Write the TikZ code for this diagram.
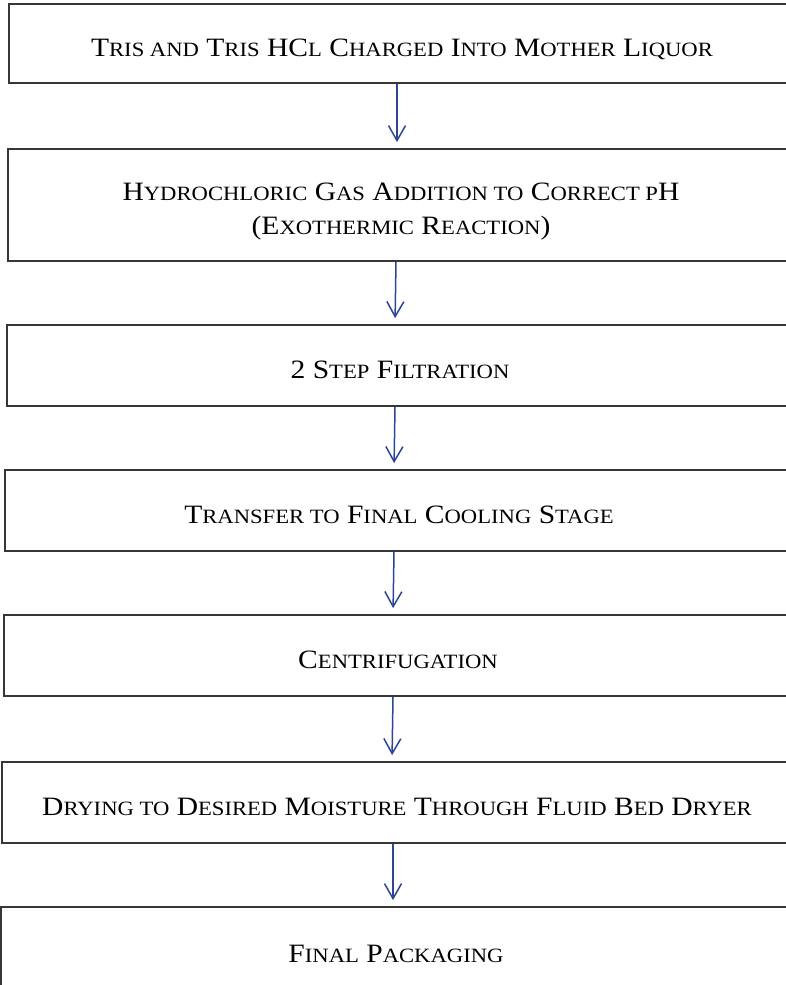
\documentclass[tikz,border=0pt]{standalone}
\usepackage{fontspec}
\setmainfont[FakeStretch=1.115]{Liberation Serif}
\usetikzlibrary{arrows.meta}
\definecolor{boxline}{RGB}{55,55,55}
\definecolor{arrblue}{RGB}{45,70,150}
\newcommand{\sm}[1]{{\fontsize{20.3}{24}\selectfont #1}}
\tikzset{
  stepbox/.style={draw=boxline, line width=1.8pt, fill=none, inner sep=0pt,
    font=\fontsize{26.5}{34}\selectfont, text=black,
    text height=30pt, text depth=4pt},
  flowarrow/.style={draw=arrblue, line width=1.5pt,
    -{Straight Barb[length=15pt,width=17pt,line width=1.5pt]}, shorten >=6pt}
}
\begin{document}
\begin{tikzpicture}[x=1pt,y=-1pt]
\useasboundingbox (0,0) rectangle (785,985);
\fill[white] (0,0) rectangle (785,985);
\node[stepbox, minimum width=786pt, minimum height=79pt] (b1) at (402,43.5)
  {T\sm{RIS AND} T\sm{RIS} HC\sm{L} C\sm{HARGED} I\sm{NTO} M\sm{OTHER} L\sm{IQUOR}};
\node[stepbox, minimum width=786pt, minimum height=112pt, text height=28pt, text depth=4pt] (b2) at (401,205)
  {\begin{tabular}{@{}c@{}}H\sm{YDROCHLORIC} G\sm{AS} A\sm{DDITION TO} C\sm{ORRECT P}H\\(E\sm{XOTHERMIC} R\sm{EACTION})\end{tabular}};
\node[stepbox, minimum width=786pt, minimum height=81pt] (b3) at (400,365.5)
  {2 S\sm{TEP} F\sm{ILTRATION}};
\node[stepbox, minimum width=788pt, minimum height=81pt] (b4) at (399,510.5)
  {T\sm{RANSFER TO} F\sm{INAL} C\sm{OOLING} S\sm{TAGE}};
\node[stepbox, minimum width=788pt, minimum height=81pt] (b5) at (398,655.5)
  {C\sm{ENTRIFUGATION}};
\node[stepbox, minimum width=790pt, minimum height=81pt] (b6) at (397,802.5)
  {D\sm{RYING TO} D\sm{ESIRED} M\sm{OISTURE} T\sm{HROUGH} F\sm{LUID} B\sm{ED} D\sm{RYER}};
\node[stepbox, minimum width=790pt, minimum height=85pt] (b7) at (396,949.5)
  {F\sm{INAL} P\sm{ACKAGING}};
\draw[flowarrow] ([xshift=-5pt]b1.south) -- ([xshift=-4pt]b2.north);
\draw[flowarrow] ([xshift=-5pt]b2.south) -- ([xshift=-5pt]b3.north);
\draw[flowarrow] ([xshift=-5pt]b3.south) -- ([xshift=-5pt]b4.north);
\draw[flowarrow] ([xshift=-5pt]b4.south) -- ([xshift=-5pt]b5.north);
\draw[flowarrow] ([xshift=-5pt]b5.south) -- ([xshift=-5pt]b6.north);
\draw[flowarrow] ([xshift=-4pt]b6.south) -- ([xshift=-3pt]b7.north);
\end{tikzpicture}
\end{document}
